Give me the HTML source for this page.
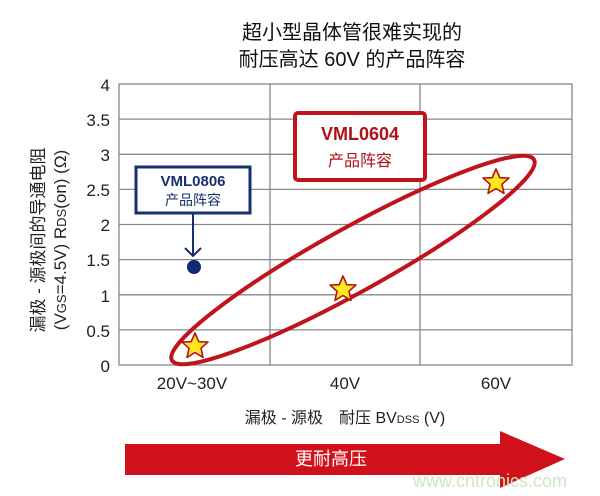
<!DOCTYPE html>
<html><head><meta charset="utf-8"><style>
body{margin:0;background:#fff;}
svg{display:block;font-family:"Liberation Sans","Noto Sans CJK SC",sans-serif;}
</style></head><body>
<svg width="600" height="496" viewBox="0 0 600 496" xmlns="http://www.w3.org/2000/svg">
<rect width="600" height="496" fill="#fff"/>
<text x="352" y="39" font-size="20" text-anchor="middle" fill="#111">超小型晶体管很难实现的</text>
<text x="352" y="66" font-size="20" text-anchor="middle" fill="#111">耐压高达 60V 的产品阵容</text>
<g stroke="#888" stroke-width="1.3" fill="none">
<rect x="119" y="84" width="453" height="281"/>
<line x1="119" y1="119.1" x2="572" y2="119.1"/>
<line x1="119" y1="154.3" x2="572" y2="154.3"/>
<line x1="119" y1="189.4" x2="572" y2="189.4"/>
<line x1="119" y1="224.5" x2="572" y2="224.5"/>
<line x1="119" y1="259.6" x2="572" y2="259.6"/>
<line x1="119" y1="294.8" x2="572" y2="294.8"/>
<line x1="119" y1="329.9" x2="572" y2="329.9"/>
<line x1="270" y1="84" x2="270" y2="365"/>
<line x1="420" y1="84" x2="420" y2="365"/>
</g>
<g font-size="17" fill="#222" text-anchor="end">
<text x="110" y="91">4</text><text x="110" y="126">3.5</text><text x="110" y="161">3</text>
<text x="110" y="196">2.5</text><text x="110" y="231">2</text><text x="110" y="266">1.5</text>
<text x="110" y="302">1</text><text x="110" y="337">0.5</text><text x="110" y="372">0</text>
</g>
<g font-size="17" fill="#222" text-anchor="middle">
<text x="192" y="389">20V~30V</text><text x="345" y="389">40V</text><text x="496" y="389">60V</text>
</g>
<g transform="translate(44,240) rotate(-90)" font-size="17" fill="#222" text-anchor="middle">
<text x="0" y="0">漏极 - 源极间的导通电阻</text>
<text x="0" y="22">(V<tspan font-size="13">GS</tspan>=4.5V)  R<tspan font-size="13">DS</tspan>(on) (Ω)</text>
</g>
<text x="345" y="423" font-size="16" fill="#222" text-anchor="middle">漏极 - 源极　耐压 BV<tspan font-size="11">DSS</tspan> (V)</text>
<polygon points="125,444 500,444 500,431 565,459 500,488 500,475 125,475" fill="#d0101b"/>
<text x="331" y="465" font-size="18" fill="#fff" text-anchor="middle">更耐高压</text>
<text x="490" y="487" font-size="18" fill="#cfe6c4" text-anchor="middle">www.cntronics.com</text>
<ellipse cx="353" cy="260" rx="207" ry="32" transform="rotate(-29 353 260)" fill="none" stroke="#c0141c" stroke-width="4"/>
<rect x="295" y="113" width="130" height="67" rx="3" fill="#fff" stroke="#c0141c" stroke-width="4"/>
<text x="360" y="140" font-size="18" font-weight="bold" fill="#b0101a" text-anchor="middle">VML0604</text>
<text x="360" y="166" font-size="16" fill="#b0101a" text-anchor="middle">产品阵容</text>
<rect x="136" y="167" width="114" height="46" fill="#fff" stroke="#17306b" stroke-width="3"/>
<text x="193" y="186" font-size="15" font-weight="bold" fill="#17306b" text-anchor="middle">VML0806</text>
<text x="193" y="205" font-size="14" fill="#17306b" text-anchor="middle">产品阵容</text>
<line x1="193" y1="213" x2="193" y2="255" stroke="#17306b" stroke-width="2"/>
<polyline points="185,248 193,256 201,248" fill="none" stroke="#17306b" stroke-width="2"/>
<circle cx="194" cy="267" r="7" fill="#0f2a70"/>
<defs><polygon id="st" points="0,-13 3.8,-4.3 13,-4 6,2.2 8,11.4 0,6.5 -8,11.4 -6,2.2 -13,-4 -3.8,-4.3" fill="#ffe81f" stroke="#b0141c" stroke-width="1.6" stroke-linejoin="round"/></defs>
<use href="#st" x="195" y="346"/>
<use href="#st" x="343" y="289"/>
<use href="#st" x="496" y="182"/>
</svg>
</body></html>
